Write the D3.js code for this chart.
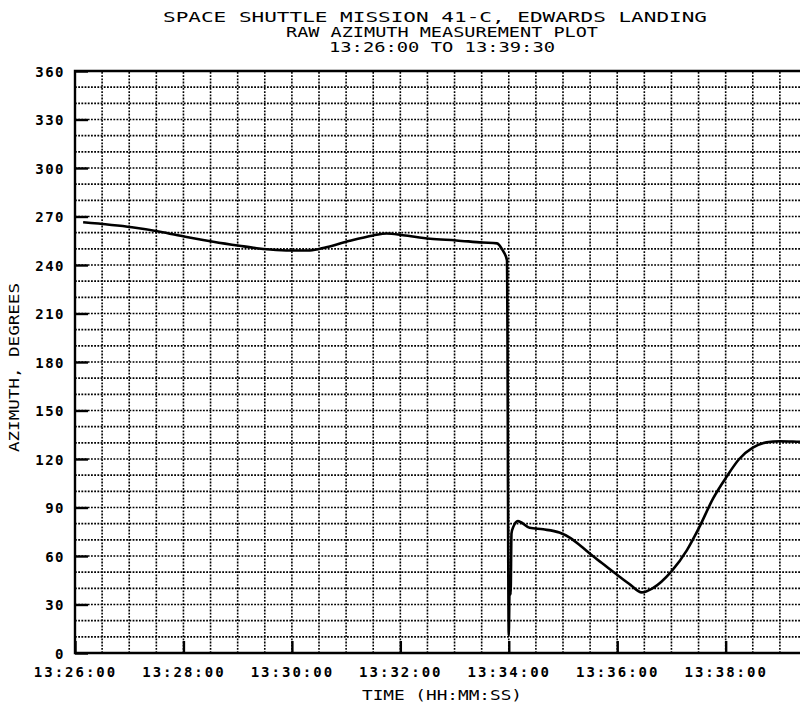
<!DOCTYPE html>
<html>
<head>
<meta charset="utf-8">
<script src="https://cdn.jsdelivr.net/npm/d3@7"></script>
<style>
  html, body { margin: 0; padding: 0; background: #fff; }
  svg { display: block; }
  text { font-family: "DejaVu Sans Mono", "Liberation Mono", monospace; fill: #000; }
</style>
</head>
<body>
<svg id="chart" width="800" height="705"></svg>
<script>
// ---- data ----
const titleLines = [
  "SPACE SHUTTLE MISSION 41-C, EDWARDS LANDING",
  "RAW AZIMUTH MEASUREMENT PLOT",
  "13:26:00 TO 13:39:30"
];
const xAxisTitle = "TIME (HH:MM:SS)";
const yAxisTitle = "AZIMUTH, DEGREES";

const timeDomain = ["13:26:00", "13:39:30"];
const xTickLabels = ["13:26:00", "13:28:00", "13:30:00", "13:32:00", "13:34:00", "13:36:00", "13:38:00"];
const yTickValues = [0, 30, 60, 90, 120, 150, 180, 210, 240, 270, 300, 330, 360];

const times = [
  "13:26:09", "13:27:03", "13:27:34", "13:28:02", "13:28:33", "13:29:02", "13:29:21",
  "13:29:36", "13:29:58", "13:30:20", "13:30:38", "13:31:04", "13:31:30", "13:31:45",
  "13:32:03", "13:32:33", "13:33:02", "13:33:31", "13:33:47", "13:33:53", "13:33:58",
  "13:34:00", "13:34:01", "13:34:02", "13:34:03", "13:34:05", "13:34:10", "13:34:23",
  "13:34:38", "13:34:56", "13:35:07", "13:35:19", "13:35:33", "13:35:48", "13:36:03",
  "13:36:15", "13:36:27", "13:36:39", "13:37:00", "13:37:17", "13:37:31", "13:37:46",
  "13:38:01", "13:38:15", "13:38:30", "13:38:45", "13:39:00", "13:39:22", "13:39:30"
];
const azimuth = [
  266.4, 263.3, 260.6, 257.5, 254.4, 251.9, 250.4,
  249.6, 249.0, 249.0, 251.0, 255.0, 258.3, 259.5,
  258.4, 256.2, 255.2, 253.9, 253.4, 249.3, 243.0,
  11.0, 45.0, 36.0, 74.0, 78.0, 81.6, 77.5,
  76.5, 74.5, 71.5, 66.5, 60.0, 53.5, 47.0,
  42.0, 37.5, 40.0, 50.5, 63.5, 78.0, 95.5,
  109.0, 120.0, 127.0, 130.3, 131.0, 130.7, 130.6
];

// ---- layout ----
const svg = d3.select("#chart");
const pLeft = 75, pRight = 807, pTop = 71, pBottom = 653;
const parse = d3.timeParse("%H:%M:%S");
const fmt = d3.timeFormat("%H:%M:%S");

const x = d3.scaleTime().domain(timeDomain.map(parse)).range([pLeft, pRight]);
const y = d3.scaleLinear().domain([0, 360]).range([pBottom, pTop]);

const data = times.map((t, i) => ({ t: parse(t), v: azimuth[i] }));

// ---- grid ----
const gridX = d3.timeSecond.every(30).range(x.domain()[0], d3.timeSecond.offset(x.domain()[1], 1));
const gridY = d3.range(0, 361, 10);

const grid = svg.append("g").attr("class", "grid");
grid.selectAll("line.v").data(gridX).join("line")
  .attr("class", "v")
  .attr("x1", d => x(d)).attr("x2", d => x(d))
  .attr("y1", pBottom).attr("y2", pTop)
  .attr("stroke", "#000").attr("stroke-width", 1.6)
  .attr("stroke-dasharray", "1.8,1.4");
grid.selectAll("line.h").data(gridY).join("line")
  .attr("class", "h")
  .attr("x1", pLeft).attr("x2", 800)
  .attr("y1", d => y(d)).attr("y2", d => y(d))
  .attr("stroke", "#000").attr("stroke-width", 1.6)
  .attr("stroke-dasharray", "1.8,1.4");

// ---- axes ----
const xAxis = d3.axisBottom(x)
  .tickValues(xTickLabels.map(parse))
  .tickFormat(fmt)
  .tickSizeInner(-12).tickSizeOuter(0)
  .tickPadding(14);
const gx = svg.append("g").attr("transform", `translate(0,${pBottom})`).call(xAxis);
gx.select(".domain").remove();
gx.selectAll(".tick line").attr("stroke", "#000").attr("stroke-width", 2.4);
gx.selectAll(".tick text")
  .attr("font-size", 14).attr("letter-spacing", "2px").attr("font-weight", "bold")
  .attr("font-family", "DejaVu Sans Mono").attr("fill", "#000");

const yAxis = d3.axisLeft(y)
  .tickValues(yTickValues)
  .tickFormat(d3.format("d"))
  .tickSizeInner(-13).tickSizeOuter(0)
  .tickPadding(10);
const gy = svg.append("g").attr("transform", `translate(${pLeft},0)`).call(yAxis);
gy.select(".domain").remove();
gy.selectAll(".tick line").attr("stroke", "#000").attr("stroke-width", 2.4);
gy.selectAll(".tick text")
  .attr("font-size", 14).attr("letter-spacing", "1.5px").attr("font-weight", "bold")
  .attr("font-family", "DejaVu Sans Mono").attr("fill", "#000")
  .attr("dy", "0.38em");

// ---- frame ----
svg.append("path")
  .attr("d", `M800,${pTop}H${pLeft}V${pBottom}H800`)
  .attr("fill", "none").attr("stroke", "#000").attr("stroke-width", 2.4);

// ---- curve ----
const line = d3.line().x(d => x(d.t)).y(d => y(d.v)).curve(d3.curveMonotoneX);
svg.append("path").datum(data)
  .attr("d", line)
  .attr("fill", "none").attr("stroke", "#000")
  .attr("stroke-width", 2.6).attr("stroke-linejoin", "round");

// ---- titles ----
const titleY = [22, 37, 52];
const titleLen = [544, 312, 226];
const titleX = [435, 442, 442];
svg.selectAll("text.title").data(titleLines).join("text")
  .attr("class", "title")
  .attr("x", (d, i) => titleX[i] - titleLen[i] / 2)
  .attr("y", (d, i) => titleY[i])
  .attr("font-size", 14)
  .attr("textLength", (d, i) => titleLen[i])
  .attr("lengthAdjust", "spacingAndGlyphs")
  .text(d => d);

svg.append("text")
  .attr("x", 362).attr("y", 700)
  .attr("font-size", 14)
  .attr("textLength", 160).attr("lengthAdjust", "spacingAndGlyphs")
  .text(xAxisTitle);

svg.append("text")
  .attr("transform", "translate(19,452) rotate(-90)")
  .attr("x", 0).attr("y", 0)
  .attr("font-size", 14)
  .attr("textLength", 169).attr("lengthAdjust", "spacingAndGlyphs")
  .text(yAxisTitle);
</script>
</body>
</html>
